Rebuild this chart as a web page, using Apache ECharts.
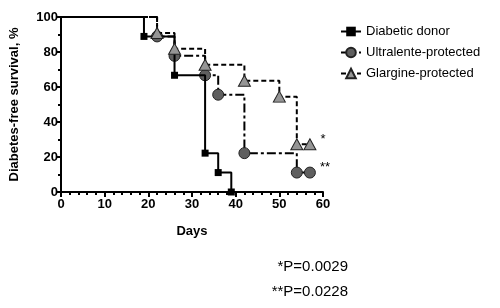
<!DOCTYPE html>
<html>
<head>
	<meta charset="UTF-8">
	<title></title>
	<style>
		html, body { margin: 0; padding: 0; background: #fff; }
		#chart { width: 500px; height: 308px; }
	</style>
	<script src="https://cdn.jsdelivr.net/npm/echarts@6/dist/echarts.min.js"></script>
</head>
<body>
	<div id="chart"></div>
	<script>
		var donorDays = [0, 19, 26, 33, 36, 39];
		var donorSurv = [100, 88.9, 66.7, 22.2, 11.1, 0];
		var ultraDays = [0, 22, 26, 33, 36, 42, 54, 57];
		var ultraSurv = [100, 88.9, 77.8, 66.7, 55.6, 22.2, 11.1, 11.1];
		var glarDays = [0, 22, 26, 33, 42, 50, 54, 57];
		var glarSurv = [100, 90.9, 81.8, 72.7, 63.6, 54.5, 27.3, 27.3];
		var pTexts = ['*P=0.0029', '**P=0.0228'];

		var font = 'Liberation Sans';

		// pair up days + survival, no marker on the starting point
		function pts(days, surv, tag) {
			return days.map(function (d, i) {
				var p = { value: [d, surv[i]] };
				if (i === 0) p.symbol = 'none';
				if (tag && i === days.length - 1) {
					p.label = { show: true, formatter: tag, position: 'right', distance: 4, offset: [0, -5],
						fontFamily: font, fontSize: 13, color: '#000' };
				}
				return p;
			});
		}

		var myChart = echarts.init(document.getElementById('chart'));
		myChart.setOption({
			animation: false,
			textStyle: { fontFamily: font },
			grid: { left: 59, top: 17, width: 264, height: 175 },
			legend: {
				orient: 'vertical',
				left: 335, top: 20,
				itemWidth: 20, itemHeight: 12, itemGap: 8,
				textStyle: { fontFamily: font, fontSize: 13, color: '#000' }
			},
			xAxis: {
				type: 'value', min: 0, max: 60, interval: 10,
				name: 'Days', nameLocation: 'middle', nameGap: 33,
				nameTextStyle: { fontFamily: font, fontSize: 13, fontWeight: 'bold', color: '#000' },
				axisLine: { lineStyle: { color: '#000', width: 2 } },
				axisTick: { length: 5, lineStyle: { color: '#000', width: 2 } },
				minorTick: { show: true, splitNumber: 5, length: 3, lineStyle: { color: '#000', width: 2 } },
				axisLabel: { fontFamily: font, fontSize: 13, fontWeight: 'bold', color: '#000', margin: 6 },
				splitLine: { show: false }
			},
			yAxis: {
				type: 'value', min: 0, max: 100, interval: 20,
				name: 'Diabetes-free survival, %', nameLocation: 'middle', nameGap: 40,
				nameTextStyle: { fontFamily: font, fontSize: 13, fontWeight: 'bold', color: '#000' },
				axisLine: { show: true, lineStyle: { color: '#000', width: 2 } },
				axisTick: { show: true, length: 5, lineStyle: { color: '#000', width: 2 } },
				minorTick: { show: true, splitNumber: 2, length: 3, lineStyle: { color: '#000', width: 2 } },
				axisLabel: { fontFamily: font, fontSize: 13, fontWeight: 'bold', color: '#000', margin: 3 },
				splitLine: { show: false }
			},
			series: [
				{
					name: 'Diabetic donor', type: 'line', step: 'end',
					data: pts(donorDays, donorSurv),
					symbol: 'rect', symbolSize: 7,
					itemStyle: { color: '#000' },
					lineStyle: { color: '#000', width: 2 },
					z: 3
				},
				{
					name: 'Ultralente-protected', type: 'line', step: 'end',
					data: pts(ultraDays, ultraSurv, '**'),
					symbol: 'circle', symbolSize: 11,
					itemStyle: { color: '#5f5f5f', borderColor: '#222', borderWidth: 1 },
					lineStyle: { color: '#000', width: 2, type: [9, 3, 3, 3] },
					z: 2
				},
				{
					name: 'Glargine-protected', type: 'line', step: 'end',
					data: pts(glarDays, glarSurv, '*'),
					symbol: 'triangle', symbolSize: [12, 11],
					itemStyle: { color: '#959595', borderColor: '#222', borderWidth: 1 },
					lineStyle: { color: '#000', width: 2, type: [5, 3] },
					z: 4
				}
			],
			graphic: [
				{ type: 'text', right: 152, top: 259,
					style: { text: pTexts[0], font: '15px ' + font, fill: '#000' } },
				{ type: 'text', right: 152, top: 284,
					style: { text: pTexts[1], font: '15px ' + font, fill: '#000' } }
			]
		});
	</script>
</body>
</html>
